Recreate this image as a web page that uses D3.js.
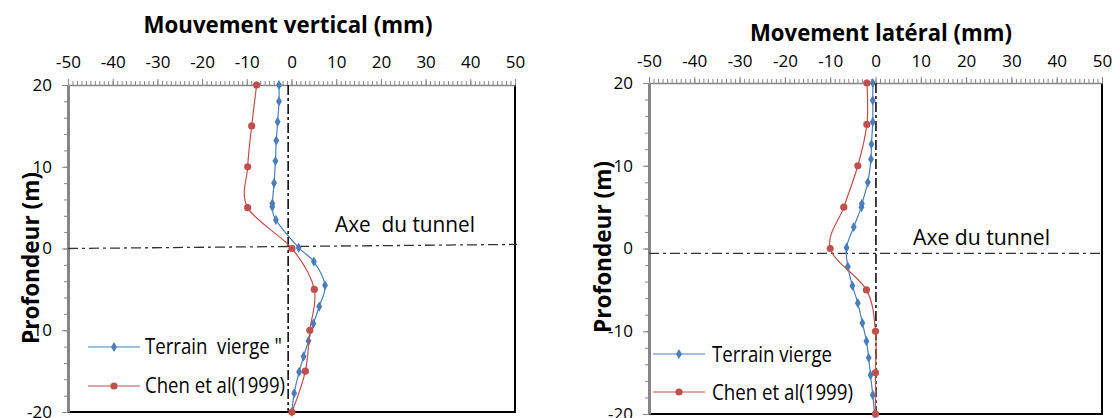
<!DOCTYPE html>
<html>
<head>
<meta charset="utf-8">
<script src="https://cdn.jsdelivr.net/npm/d3@7/dist/d3.min.js"></script>
<style>
  body { margin: 0; background: #fff; }
  svg { display: block; }
</style>
</head>
<body>
<svg id="chart" width="1112" height="418"></svg>
<script>
// tick labels
const xTickValues = [-50, -40, -30, -20, -10, 0, 10, 20, 30, 40, 50];
const yTickValues = [20, 10, 0, -10, -20];

// Mouvement vertical
const vertDepthTerrain = [20, 18, 15.5, 13.2, 10.7, 8, 5.5, 5.1, 3.5, 0.1, -1.6, -4.5, -7.1, -9.2, -11.3, -13.2, -15.1, -17.7, -20];
const vertTerrain = [-2.8, -2.8, -3.1, -3.4, -3.6, -3.9, -4.3, -4.3, -3.5, 1.6, 5.0, 7.5, 6.2, 4.9, 3.8, 2.7, 1.7, 0.6, 0.1];
const vertDepthChen = [20, 15, 10, 5, 0, -5, -10, -15, -20];
const vertChen = [-7.8, -8.9, -9.8, -9.8, 0.1, 5.1, 4.1, 3.1, 0.1];

// Movement latéral
const latDepthTerrain = [20, 17.9, 15.3, 12.6, 10.8, 8.0, 5.4, 5.0, 2.6, 0.1, -2.2, -4.5, -6.6, -9.0, -11.2, -13.2, -15.3, -17.7, -20];
const latTerrain = [-0.6, -0.6, -0.6, -0.9, -1.0, -1.7, -3.0, -3.1, -4.8, -6.4, -6.1, -5.1, -3.9, -2.9, -2.0, -1.5, -1.1, -0.6, -0.2];
const latDepthChen = [20, 15, 10, 5, 0, -5, -10, -15, -20];
const latChen = [-1.9, -1.9, -3.9, -7.0, -10.0, -2.0, 0, 0, 0];

const blue = "#4a7ebb";
const red = "#c0504d";
const gray = "#868686";
const font = "'Open Sans', 'Noto Sans', sans-serif";

const svg = d3.select("#chart");

const panels = [
  {
    box: { left: 68, right: 515, top: 85, bottom: 412 },
    title: "Mouvement vertical (mm)", titleX: 288, titleY: 33, titleLen: 289,
    yLabelX: 39, yLabelY: 258, xPad: 11,
    series: [
      { name: "Terrain  vierge \"", depth: vertDepthTerrain, values: vertTerrain, color: blue, marker: "diamond", textLen: 137 },
      { name: "Chen et al(1999)", depth: vertDepthChen, values: vertChen, color: red, marker: "circle", textLen: 140 }
    ],
    legend: { x0: 88, x1: 140, y: 347, dy: 39, textX: 145, textDy: 7 },
    axisX: -0.75, axisY0: 0, axisY1: 0.5, axisXEnd: 50.5,
    tunnel: { text: "Axe  du tunnel", x: 335, y: 232, len: 140 }
  },
  {
    box: { left: 649, right: 1102, top: 83, bottom: 414 },
    title: "Movement latéral (mm)", titleX: 881, titleY: 41, titleLen: 262,
    yLabelX: 611, yLabelY: 247, xPad: 10,
    series: [
      { name: "Terrain vierge", depth: latDepthTerrain, values: latTerrain, color: blue, marker: "diamond", textLen: 120 },
      { name: "Chen et al(1999)", depth: latDepthChen, values: latChen, color: red, marker: "circle", textLen: 141 }
    ],
    legend: { x0: 653, x1: 705, y: 354, dy: 38, textX: 712, textDy: 8 },
    axisX: 0.1, axisY0: -0.6, axisY1: -0.6, axisXEnd: 50,
    tunnel: { text: "Axe du tunnel", x: 913, y: 245, len: 137 }
  }
];

const diamond = d3.symbol().type(d3.symbolDiamond).size(30);

function drawMarker(g, type, color, cx, cy) {
  if (type === "diamond") {
    g.append("path")
      .attr("d", diamond())
      .attr("transform", `translate(${cx},${cy})`)
      .attr("fill", color);
  } else {
    g.append("circle")
      .attr("cx", cx).attr("cy", cy).attr("r", 3.6)
      .attr("fill", color);
  }
}

function drawPanel(p) {
  const { left, right, top, bottom } = p.box;
  const x = d3.scaleLinear().domain([-50, 50]).range([left, right]);
  const y = d3.scaleLinear().domain([-20, 20]).range([bottom, top]);
  const g = svg.append("g");

  // right and bottom border
  g.append("path")
    .attr("d", `M${x(50)},${y(20)}V${y(-20)}H${x(-50)}`)
    .attr("fill", "none").attr("stroke", "#000").attr("stroke-width", 2);

  // top axis: minor ticks every 1, labelled major ticks every 10
  g.append("g")
    .attr("transform", `translate(0,${y(20)})`)
    .call(d3.axisTop(x).tickValues(d3.range(-50, 51, 1)).tickSize(4).tickSizeOuter(0).tickFormat(""))
    .call(a => a.select(".domain").attr("stroke", gray).attr("stroke-width", 1.5))
    .call(a => a.selectAll(".tick line").attr("stroke", gray));
  g.append("g")
    .attr("transform", `translate(0,${y(20)})`)
    .call(d3.axisTop(x).tickValues(xTickValues).tickSize(6).tickSizeOuter(0).tickPadding(p.xPad).tickFormat(d => String(d)))
    .call(a => a.select(".domain").remove())
    .call(a => a.selectAll(".tick line").attr("stroke", gray))
    .call(a => a.selectAll("text").attr("font-family", font).attr("font-size", 17).attr("fill", "#000"));

  // left axis: minor ticks every 2
  g.append("g")
    .attr("transform", `translate(${x(-50)},0)`)
    .call(d3.axisLeft(y).tickValues(d3.range(-20, 21, 2)).tickSize(4).tickSizeOuter(0).tickFormat(""))
    .call(a => a.select(".domain").attr("stroke", gray).attr("stroke-width", 3))
    .call(a => a.selectAll(".tick line").attr("stroke", gray));
  g.append("g")
    .attr("transform", `translate(${x(-50)},0)`)
    .call(d3.axisLeft(y).tickValues(yTickValues).tickSize(6).tickSizeOuter(0).tickPadding(10).tickFormat(d => String(d)))
    .call(a => a.select(".domain").remove())
    .call(a => a.selectAll(".tick line").attr("stroke", gray))
    .call(a => a.selectAll("text").attr("font-family", font).attr("font-size", 17).attr("fill", "#000"));

  // tunnel axis dash-dot lines
  g.append("line")
    .attr("x1", x(p.axisX)).attr("x2", x(p.axisX))
    .attr("y1", y(20)).attr("y2", y(-20))
    .attr("stroke", "#000").attr("stroke-width", 1.5)
    .attr("stroke-dasharray", "10,3,3,3");
  g.append("line")
    .attr("x1", x(-50)).attr("x2", x(p.axisXEnd))
    .attr("y1", y(p.axisY0)).attr("y2", y(p.axisY1))
    .attr("stroke", "#333").attr("stroke-width", 1.3)
    .attr("stroke-dasharray", "10,4,3,4");

  g.append("text")
    .attr("x", p.tunnel.x).attr("y", p.tunnel.y)
    .attr("font-family", font).attr("font-size", 21)
    .attr("textLength", p.tunnel.len).attr("lengthAdjust", "spacingAndGlyphs")
    .style("white-space", "pre")
    .text(p.tunnel.text);

  // series
  p.series.forEach(s => {
    const pts = s.values.map((v, i) => [x(v), y(s.depth[i])]);
    g.append("path")
      .attr("d", d3.line().curve(d3.curveCardinal.tension(0))(pts))
      .attr("fill", "none").attr("stroke", s.color).attr("stroke-width", 1.2);
    pts.forEach(pt => drawMarker(g, s.marker, s.color, pt[0], pt[1]));
  });

  // legend
  p.series.forEach((s, i) => {
    const ly = p.legend.y + i * p.legend.dy;
    g.append("line")
      .attr("x1", p.legend.x0).attr("x2", p.legend.x1)
      .attr("y1", ly).attr("y2", ly)
      .attr("stroke", s.color).attr("stroke-width", 1.2);
    drawMarker(g, s.marker, s.color, (p.legend.x0 + p.legend.x1) / 2, ly);
    g.append("text")
      .attr("x", p.legend.textX).attr("y", ly + p.legend.textDy)
      .attr("font-family", font).attr("font-size", 21)
      .attr("textLength", s.textLen).attr("lengthAdjust", "spacingAndGlyphs")
      .style("white-space", "pre")
      .text(s.name);
  });

  // titles
  g.append("text")
    .attr("x", p.titleX).attr("y", p.titleY)
    .attr("text-anchor", "middle")
    .attr("font-family", font).attr("font-size", 23).attr("font-weight", "bold")
    .attr("textLength", p.titleLen).attr("lengthAdjust", "spacingAndGlyphs")
    .text(p.title);
  g.append("text")
    .attr("transform", `translate(${p.yLabelX},${p.yLabelY}) rotate(-90)`)
    .attr("text-anchor", "middle")
    .attr("font-family", font).attr("font-size", 24).attr("font-weight", "bold")
    .attr("textLength", 172).attr("lengthAdjust", "spacingAndGlyphs")
    .text("Profondeur (m)");
}

panels.forEach(drawPanel);
</script>
</body>
</html>
